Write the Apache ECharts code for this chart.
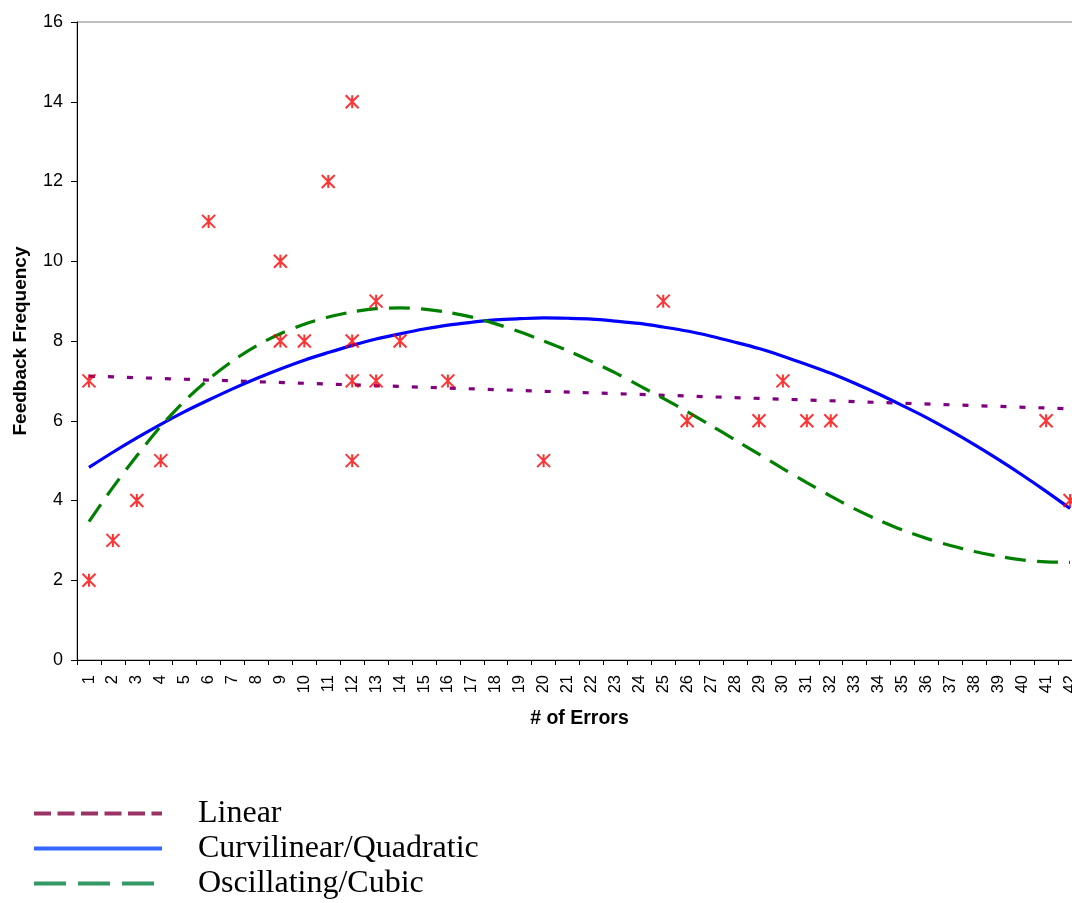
<!DOCTYPE html>
<html>
<head>
<meta charset="utf-8">
<script src="https://cdn.jsdelivr.net/npm/echarts@6/dist/echarts.min.js"></script>
<style>
  html, body { margin: 0; padding: 0; background: #ffffff; }
  #chart { width: 1072px; height: 903px; }
</style>
</head>
<body>
<div id="chart"></div>
<script>
// Category labels along the "# of Errors" axis
const errorLabels = ['1','2','3','4','5','6','7','8','9','10','11','12','13','14','15','16','17','18','19','20','21',
  '22','23','24','25','26','27','28','29','30','31','32','33','34','35','36','37','38','39','40','41','42'];

// Observed points: error category and feedback frequency
const pointErrors = ['1','1','2','3','4','6','9','9','10','11','12','12','12','12','13','13','14','16','20','25','26','29','30','31','32','41','42'];
const pointFeedback = [7, 2, 3, 4, 5, 11, 10, 8, 8, 12, 14, 8, 7, 5, 9, 7, 8, 7, 5, 9, 6, 6, 7, 6, 6, 6, 4];

// Linear trend: straight line between its two ends
const linearAt = ['1', '42'];
const linearTrend = [7.12, 6.30];

// Quadratic trend, one value per category
const quadraticTrend = [4.83, 5.21, 5.57, 5.91, 6.23, 6.52, 6.80, 7.06, 7.30, 7.52, 7.71, 7.89, 8.05, 8.18, 8.30, 8.40, 8.47,
  8.53, 8.56, 8.58, 8.57, 8.55, 8.50, 8.44, 8.35, 8.25, 8.12, 7.97, 7.81, 7.62, 7.41, 7.19, 6.94, 6.67, 6.38, 6.08, 5.75,
  5.40, 5.03, 4.64, 4.23, 3.80];

// Cubic trend, one value per category
const cubicTrend = [3.47, 4.33, 5.12, 5.86, 6.50, 7.04, 7.50, 7.88, 8.18, 8.42, 8.60, 8.73, 8.81, 8.83, 8.80, 8.72, 8.60,
  8.43, 8.23, 8.00, 7.76, 7.49, 7.20, 6.88, 6.56, 6.23, 5.88, 5.52, 5.16, 4.80, 4.45, 4.11, 3.79, 3.51, 3.26, 3.05, 2.87,
  2.72, 2.60, 2.51, 2.46, 2.45];

// Y axis range
const yMin = 0, yMax = 16, yStep = 2;

const chart = echarts.init(document.getElementById('chart'), null, { renderer: 'canvas' });

// Asterisk marker: two diagonals and a vertical stroke
const asterisk = 'path://M0,0L10,10M10,0L0,10M5,0L5,10';

chart.setOption({
  animation: false,
  backgroundColor: '#ffffff',
  grid: {
    left: 77, top: 22, right: -10, bottom: 243,
    containLabel: false, outerBoundsMode: 'none',
    show: true, borderColor: '#808080', borderWidth: 1, backgroundColor: 'transparent'
  },
  legend: {
    orient: 'vertical', left: 32, top: 796, padding: 0,
    itemWidth: 128, itemHeight: 4, itemGap: 0,
    selectedMode: false,
    textStyle: { fontFamily: 'Liberation Serif', fontSize: 32, color: '#000000', lineHeight: 35, padding: [0, 0, 0, 31] },
    data: [
      { name: 'Linear', itemStyle: { opacity: 0 }, lineStyle: { color: '#993366', width: 4, type: [17, 6.5] } },
      { name: 'Curvilinear/Quadratic', itemStyle: { opacity: 0 }, lineStyle: { color: '#3366FF', width: 4, type: 'solid' } },
      { name: 'Oscillating/Cubic', itemStyle: { opacity: 0 }, lineStyle: { color: '#339966', width: 4, type: [32, 12] } }
    ]
  },
  xAxis: {
    type: 'category',
    data: errorLabels,
    boundaryGap: true,
    name: '# of Errors',
    nameLocation: 'middle',
    nameGap: 49,
    nameTextStyle: { fontFamily: 'Liberation Sans', fontWeight: 'bold', fontSize: 19.5, color: '#000000' },
    axisLine: { lineStyle: { color: '#000000', width: 1 } },
    axisTick: { show: true, length: 5, lineStyle: { color: '#000000' } },
    axisLabel: { interval: 0, rotate: 90, margin: 15, fontFamily: 'Liberation Sans', fontSize: 16.5, color: '#000000' },
    splitLine: { show: false }
  },
  yAxis: {
    type: 'value',
    min: yMin, max: yMax, interval: yStep,
    name: 'Feedback Frequency',
    nameLocation: 'middle',
    nameRotate: 90,
    nameGap: 47,
    nameTextStyle: { fontFamily: 'Liberation Sans', fontWeight: 'bold', fontSize: 19, color: '#000000' },
    axisLine: { show: true, lineStyle: { color: '#000000', width: 1 } },
    axisTick: { show: true, length: 6, lineStyle: { color: '#000000' } },
    axisLabel: { margin: 14, fontFamily: 'Liberation Sans', fontSize: 18, color: '#000000' },
    splitLine: { show: false }
  },
  series: [
    {
      name: 'Linear',
      type: 'line',
      data: linearAt.map((c, i) => [c, linearTrend[i]]),
      symbol: 'none',
      lineStyle: { color: '#800080', width: 3.2, type: [6, 13] },
      itemStyle: { color: '#800080' },
      z: 2
    },
    {
      name: 'Curvilinear/Quadratic',
      type: 'line',
      data: quadraticTrend,
      symbol: 'none',
      smooth: 0.3,
      lineStyle: { color: '#0000FF', width: 3.2, type: 'solid' },
      itemStyle: { color: '#0000FF' },
      z: 2
    },
    {
      name: 'Oscillating/Cubic',
      type: 'line',
      data: cubicTrend,
      symbol: 'none',
      smooth: 0.3,
      lineStyle: { color: '#008000', width: 3.2, type: [21, 11] },
      itemStyle: { color: '#008000' },
      z: 2
    },
    {
      name: 'Feedback',
      type: 'scatter',
      data: pointErrors.map((c, i) => [c, pointFeedback[i]]),
      symbol: asterisk,
      symbolSize: 13,
      itemStyle: { color: 'rgba(0,0,0,0)', borderColor: '#FF0000', borderWidth: 2 },
      z: 3
    }
  ]
});
</script>
</body>
</html>
